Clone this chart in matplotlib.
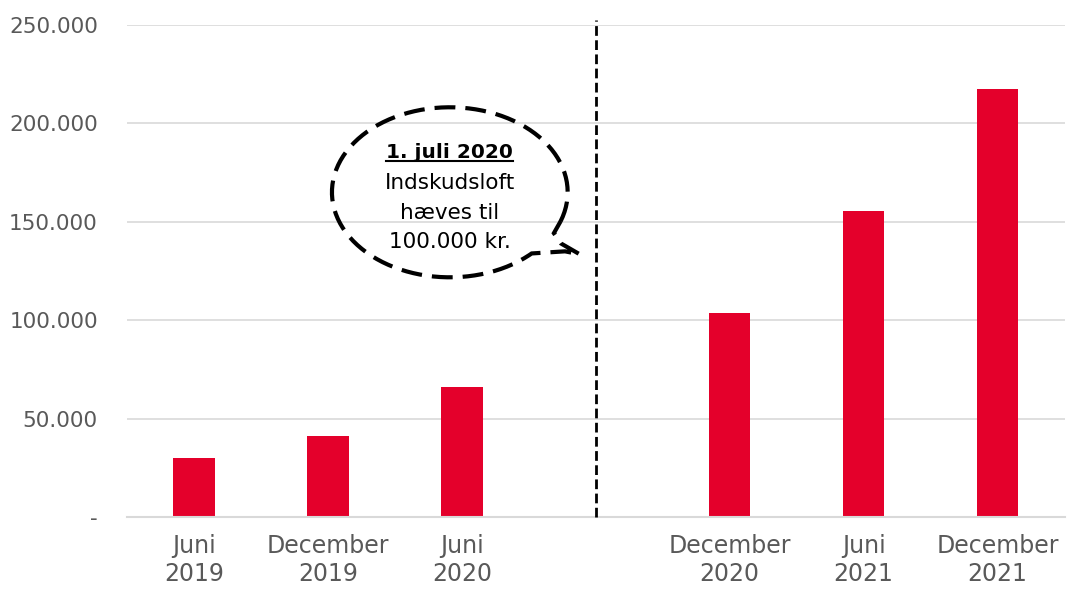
import matplotlib
matplotlib.use("Agg")
import matplotlib.pyplot as plt
import numpy as np
from matplotlib.path import Path
from matplotlib.patches import PathPatch
from matplotlib.ticker import FuncFormatter

# Data
categories = ["Juni\n2019", "December\n2019", "Juni\n2020",
              "December\n2020", "Juni\n2021", "December\n2021"]
values = [30000, 41000, 66000, 103500, 155500, 217500]
# slot index of each category (slot 3 is left empty for the reform marker)
slots = [0, 1, 2, 4, 5, 6]
y_ticks = [0, 50000, 100000, 150000, 200000, 250000]

bar_color = "#E4002B"
grid_color = "#D9D9D9"
text_color = "#595959"

plt.rcParams['font.family'] = ['DejaVu Sans']

fig = plt.figure(figsize=(10.71, 5.90), dpi=100)
ax = fig.add_axes([0.1186, 0.1237, 0.8754, 0.8339])

ax.bar(slots, values, width=0.31, color=bar_color, zorder=3)

ax.set_xlim(-0.5, 6.5)
ax.set_ylim(0, 250000)
ax.set_yticks(y_ticks)


def thousands(v, pos):
    if v == 0:
        return "-"
    return f"{int(v):,}".replace(",", ".")


ax.yaxis.set_major_formatter(FuncFormatter(thousands))
ax.set_xticks(slots)
ax.set_xticklabels(categories, linespacing=1.25)
ax.tick_params(axis='y', length=0, pad=21, labelsize=15.5, labelcolor=text_color)
ax.tick_params(axis='x', length=0, pad=12, labelsize=17, labelcolor=text_color)

ax.grid(axis='y', color=grid_color, linewidth=1.2, zorder=0)
for side in ['top', 'right', 'left']:
    ax.spines[side].set_visible(False)
ax.spines['bottom'].set_color(grid_color)
ax.spines['bottom'].set_linewidth(1.5)
ax.spines['bottom'].set_zorder(4)

# vertical dashed divider in the empty slot
ax.axvline(3, ymin=0, ymax=1.01, color='black', linewidth=2,
           linestyle=(0, (3.5, 1.6)), clip_on=False, zorder=5)

# dashed speech bubble
cx, cy = 1.91, 165000
rx, ry = 0.88, 43200
t = np.radians(np.linspace(-20, 314, 200))
verts = list(zip(cx + rx * np.cos(t), cy + ry * np.sin(t)))
verts.append((2.77, 135000))
verts.append((2.88, 133500))
verts.append((2.74, 139000))
verts.append((cx + rx * np.cos(np.radians(-20)) - 0.05, cy + ry * np.sin(np.radians(-20)) - 6000))
verts.append(verts[0])
codes = [Path.MOVETO] + [Path.LINETO] * (len(verts) - 1)
bubble = PathPatch(Path(verts, codes), facecolor='none', edgecolor='black',
                   linewidth=3, linestyle=(0, (5, 2.4)), zorder=6)
ax.add_patch(bubble)

title = ax.text(cx, 186000, "1. juli 2020", ha='center', va='center_baseline',
                fontsize=14.5, fontweight='bold', color='black', zorder=7)
for line, yy in [("Indskudsloft", 170500), ("hæves til", 155500), ("100.000 kr.", 141000)]:
    ax.text(cx, yy, line, ha='center', va='center_baseline', fontsize=15.5,
            color='black', zorder=7)

# underline the date
fig.canvas.draw()
bb = title.get_window_extent().transformed(fig.transFigure.inverted())
fig.add_artist(plt.Line2D([bb.x0, bb.x1], [bb.y0 + 0.002, bb.y0 + 0.002],
                          transform=fig.transFigure, color='black', linewidth=1.5))

fig.savefig("out.png", dpi=100)
plt.close(fig)
